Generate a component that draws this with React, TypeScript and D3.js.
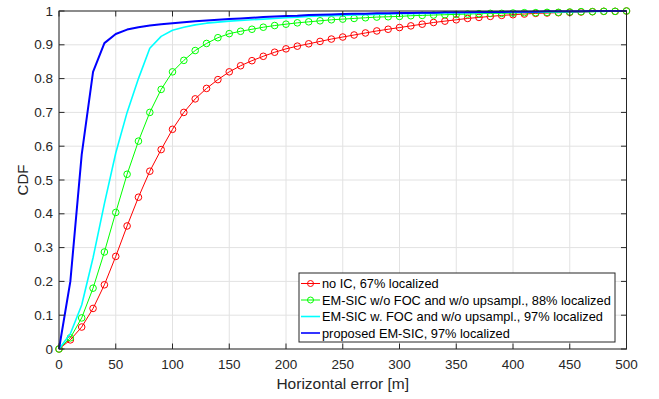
import React from "react";
import * as d3 from "d3";

const xSteps: number[] = d3.range(0, 501, 10);

const noIC: number[] = [
  0.0, 0.027, 0.065, 0.12, 0.19, 0.274, 0.364, 0.449, 0.526, 0.59, 0.65,
  0.70, 0.740, 0.771, 0.797, 0.820, 0.838, 0.853, 0.866, 0.878, 0.888,
  0.896, 0.903, 0.910, 0.917, 0.923, 0.929, 0.935, 0.941, 0.946, 0.951,
  0.956, 0.961, 0.966, 0.970, 0.974, 0.978, 0.981, 0.984, 0.987, 0.989,
  0.991, 0.993, 0.994, 0.995, 0.996, 0.997, 0.998, 0.999, 0.999, 1.0,
];

const emSicNoFoc: number[] = [
  0.0, 0.033, 0.092, 0.18, 0.287, 0.404, 0.517, 0.615, 0.70, 0.768, 0.82,
  0.854, 0.883, 0.904, 0.921, 0.933, 0.940, 0.946, 0.952, 0.957, 0.961,
  0.965, 0.968, 0.971, 0.974, 0.976, 0.978, 0.980, 0.982, 0.983, 0.984,
  0.986, 0.987, 0.988, 0.989, 0.990, 0.991, 0.992, 0.993, 0.993, 0.994,
  0.995, 0.995, 0.996, 0.996, 0.997, 0.998, 0.998, 0.999, 0.999, 1.0,
];

const emSicFoc: number[] = [
  0.0, 0.045, 0.13, 0.27, 0.43, 0.58, 0.70, 0.80, 0.89, 0.925, 0.943,
  0.952, 0.959, 0.964, 0.967, 0.970, 0.972, 0.974, 0.976, 0.978, 0.980,
  0.982, 0.984, 0.985, 0.986, 0.987, 0.988, 0.989, 0.990, 0.991, 0.992,
  0.992, 0.993, 0.993, 0.994, 0.994, 0.995, 0.995, 0.996, 0.996, 0.997,
  0.997, 0.997, 0.998, 0.998, 0.998, 0.999, 0.999, 0.999, 1.0, 1.0,
];

const proposed: number[] = [
  0.0, 0.2, 0.575, 0.82, 0.905, 0.932, 0.945, 0.952, 0.957, 0.961, 0.964,
  0.967, 0.970, 0.972, 0.974, 0.976, 0.978, 0.980, 0.982, 0.984, 0.985,
  0.986, 0.988, 0.989, 0.990, 0.991, 0.992, 0.992, 0.993, 0.993, 0.994,
  0.994, 0.995, 0.995, 0.996, 0.996, 0.996, 0.997, 0.997, 0.997, 0.998,
  0.998, 0.998, 0.999, 0.999, 0.999, 0.999, 1.0, 1.0, 1.0, 1.0,
];

const seriesNames: string[] = [
  "no IC, 67% localized",
  "EM-SIC w/o FOC and w/o upsampl., 88% localized",
  "EM-SIC w. FOC and w/o upsampl., 97% localized",
  "proposed EM-SIC, 97% localized",
];
const seriesColors: string[] = ["#ff0000", "#00ff00", "#00ffff", "#0000ff"];
const seriesWidths: number[] = [1, 1, 1.6, 2];
const seriesMarkers: boolean[] = [true, true, false, false];

const xTicks: number[] = d3.range(0, 501, 50);
const yTicks: number[] = d3.range(0, 1.0001, 0.1);

const W = 659;
const H = 399;
const L = 59;
const R = 626.5;
const T = 11;
const B = 349;
const FONT = "'Liberation Sans', Arial, Helvetica, sans-serif";
const AX = "#262626";

export default function App() {
  const x = d3.scaleLinear().domain([0, 500]).range([L, R]);
  const y = d3.scaleLinear().domain([0, 1]).range([B, T]);
  const allSeries = [noIC, emSicNoFoc, emSicFoc, proposed];
  const line = d3
    .line<number>()
    .x((_, i) => x(xSteps[i]))
    .y((d) => y(d));

  const legX = 299;
  const legY = 273;
  const legW = 316;
  const legH = 69;
  const rowY = [283.5, 300, 316.5, 333];

  return (
    <svg
      width={W}
      height={H}
      style={{ position: "absolute", left: 0, top: 0, background: "#fff" }}
      fontFamily={FONT}
    >
      <rect x={0} y={0} width={W} height={H} fill="#fff" />
      {xTicks.map((t) => (
        <line key={"gx" + t} x1={x(t)} x2={x(t)} y1={T} y2={B} stroke="#e2e2e2" strokeWidth={1} />
      ))}
      {yTicks.map((t, i) => (
        <line key={"gy" + i} x1={L} x2={R} y1={y(t)} y2={y(t)} stroke="#e2e2e2" strokeWidth={1} />
      ))}
      {allSeries.map((s, si) => (
        <g key={"s" + si}>
          <path d={line(s) || ""} fill="none" stroke={seriesColors[si]} strokeWidth={seriesWidths[si]} strokeLinejoin="round" />
          {seriesMarkers[si] &&
            s.map((v, i) => (
              <circle key={i} cx={x(xSteps[i])} cy={y(v)} r={3.3} fill="none" stroke={seriesColors[si]} strokeWidth={1} />
            ))}
        </g>
      ))}
      <rect x={L} y={T} width={R - L} height={B - T} fill="none" stroke={AX} strokeWidth={1} />
      {xTicks.map((t) => (
        <g key={"tx" + t}>
          <line x1={x(t)} x2={x(t)} y1={B} y2={B - 5.5} stroke={AX} />
          <line x1={x(t)} x2={x(t)} y1={T} y2={T + 5.5} stroke={AX} />
          <text x={x(t)} y={364} fontSize={13.5} fill={AX} textAnchor="middle" dominantBaseline="central">
            {t}
          </text>
        </g>
      ))}
      {yTicks.map((t, i) => (
        <g key={"ty" + i}>
          <line x1={L} x2={L + 5.5} y1={y(t)} y2={y(t)} stroke={AX} />
          <line x1={R} x2={R - 5.5} y1={y(t)} y2={y(t)} stroke={AX} />
          <text x={53} y={y(t)} fontSize={13.5} fill={AX} textAnchor="end" dominantBaseline="central">
            {d3.format("~g")(+t.toFixed(1))}
          </text>
        </g>
      ))}
      <text x={(L + R) / 2} y={383} fontSize={15.5} fill={AX} textAnchor="middle" dominantBaseline="central">
        Horizontal error [m]
      </text>
      <text
        transform={`translate(22,${(T + B) / 2}) rotate(-90)`}
        fontSize={15}
        fill={AX}
        textAnchor="middle"
        dominantBaseline="central"
      >
        CDF
      </text>
      <rect x={legX} y={legY} width={legW} height={legH} fill="#fff" stroke={AX} strokeWidth={1} />
      {seriesNames.map((n, i) => (
        <g key={"l" + i}>
          <line x1={301} x2={320} y1={rowY[i]} y2={rowY[i]} stroke={seriesColors[i]} strokeWidth={seriesWidths[i] > 1 ? 1.6 : 1} />
          {seriesMarkers[i] && (
            <circle cx={310.5} cy={rowY[i]} r={3} fill="none" stroke={seriesColors[i]} strokeWidth={1} />
          )}
          <text x={322} y={rowY[i]} fontSize={12.8} fill="#000" dominantBaseline="central">
            {n}
          </text>
        </g>
      ))}
    </svg>
  );
}
